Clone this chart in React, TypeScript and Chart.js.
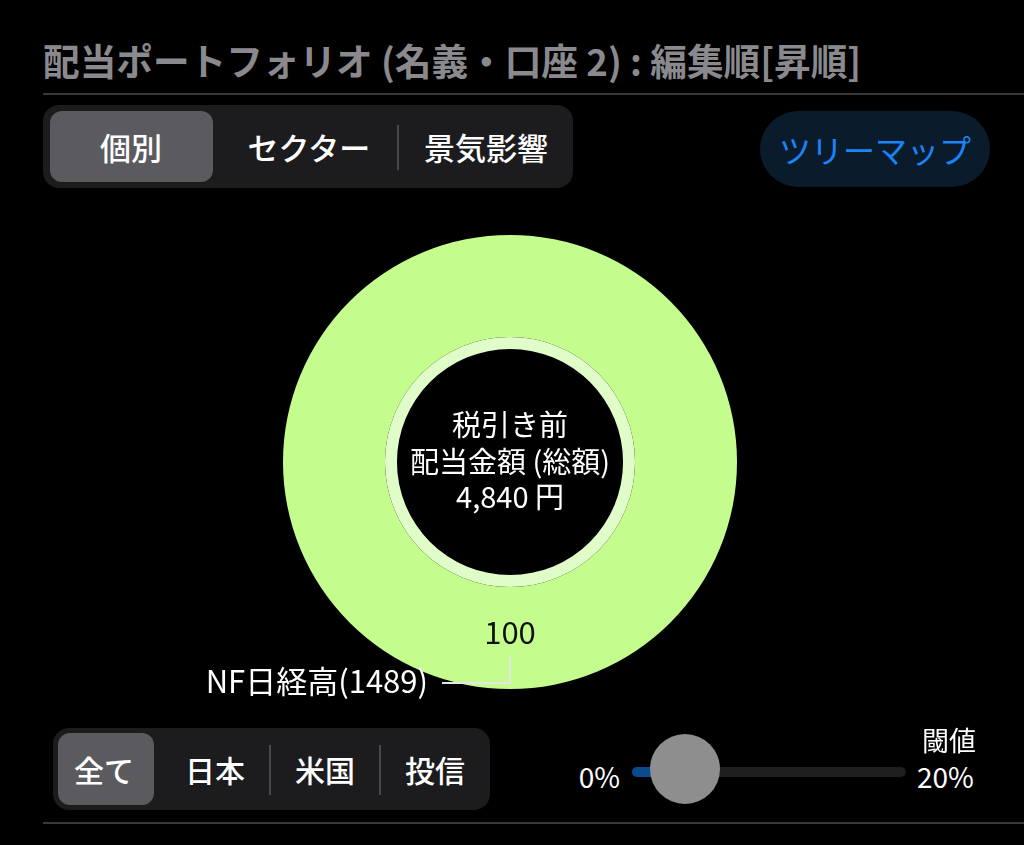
import React, { useEffect, useRef } from "react";
import { Chart, registerables } from "chart.js";

Chart.register(...registerables);

const titleText = "配当ポートフォリオ (名義・口座 2) : 編集順[昇順]";
const topTabs = ["個別", "セクター", "景気影響"];
const regionTabs = ["全て", "日本", "米国", "投信"];
const treemapLabel = "ツリーマップ";
const holdings = ["NF日経高(1489)"];
const dividendAmounts = [4840];
const centerLines = ["税引き前", "配当金額 (総額)"];
const currencyUnit = "円";
const sliderTitle = "閾値";
const sliderMin = "0%";
const sliderMax = "20%";

const FONT = '"Noto Sans CJK JP", "Noto Sans", sans-serif';

const labelPlugin = {
  id: "donutLabels",
  afterDraw(chart: any) {
    const ctx = chart.ctx;
    const meta0 = chart.getDatasetMeta(0);
    const meta1 = chart.getDatasetMeta(1);
    if (!meta0.data.length) return;
    const first = meta0.data[0];
    const cx = first.x;
    const cy = first.y;
    const innerMost = meta1.data.length ? meta1.data[0].innerRadius : first.innerRadius;
    const total = dividendAmounts.reduce((a, b) => a + b, 0);

    ctx.save();
    ctx.fillStyle = "#ffffff";
    ctx.textAlign = "center";
    ctx.textBaseline = "middle";
    ctx.font = `400 29px ${FONT}`;
    ctx.fillText(centerLines[0], cx, cy - 37);
    ctx.fillText(centerLines[1], cx, cy);
    ctx.fillText(total.toLocaleString("en-US") + " " + currencyUnit, cx, cy + 35);

    meta0.data.forEach((arc: any, i: number) => {
      const mid = (arc.startAngle + arc.endAngle) / 2;
      const outer = arc.outerRadius;
      const rMid = (innerMost + outer) / 2;
      const pct = Math.round((dividendAmounts[i] / total) * 100);
      ctx.fillStyle = "#111111";
      ctx.font = `400 31px ${FONT}`;
      ctx.textAlign = "center";
      ctx.textBaseline = "middle";
      ctx.fillText(String(pct), cx + Math.cos(mid) * rMid, cy + Math.sin(mid) * rMid);

      const x1 = cx + Math.cos(mid) * (outer - 32);
      const y1 = cy + Math.sin(mid) * (outer - 32);
      const x2 = cx + Math.cos(mid) * (outer - 6);
      const y2 = cy + Math.sin(mid) * (outer - 6);
      const dir = Math.cos(mid) > 0.001 ? 1 : -1;
      const x3 = x2 + dir * 68;
      ctx.strokeStyle = "#e6e6e6";
      ctx.lineWidth = 2;
      ctx.beginPath();
      ctx.moveTo(x1, y1);
      ctx.lineTo(x2, y2);
      ctx.lineTo(x3, y2);
      ctx.stroke();

      ctx.fillStyle = "#ffffff";
      ctx.font = `400 31px ${FONT}`;
      ctx.textAlign = dir > 0 ? "left" : "right";
      ctx.fillText(holdings[i], x3 + dir * 14, y2 - 2);
    });
    ctx.restore();
  },
};

function DonutChart() {
  const ref = useRef<HTMLCanvasElement | null>(null);
  useEffect(() => {
    if (!ref.current) return;
    const chart = new Chart(ref.current, {
      type: "doughnut",
      data: {
        labels: holdings,
        datasets: [
          {
            data: dividendAmounts,
            backgroundColor: ["#c4fc8e"],
            borderWidth: 0,
            hoverBorderWidth: 0,
            weight: 102,
          },
          {
            data: dividendAmounts,
            backgroundColor: ["#e0fcc9"],
            borderWidth: 0,
            hoverBorderWidth: 0,
            weight: 12,
          },
        ],
      },
      options: {
        animation: false,
        responsive: false,
        events: [],
        cutout: "49.8%",
        layout: { padding: { left: 0, right: 4, top: 35, bottom: 35 } },
        plugins: {
          legend: { display: false },
          tooltip: { enabled: false },
        },
      } as any,
      plugins: [labelPlugin],
    });
    return () => chart.destroy();
  }, []);
  return (
    <canvas
      ref={ref}
      width={1024}
      height={524}
      style={{ position: "absolute", left: 0, top: 200, width: 1024, height: 524 }}
    />
  );
}

const abs = (s: React.CSSProperties): React.CSSProperties => ({ position: "absolute", ...s });

function CenterText(props: { left: number; top: number; width: number; height: number; size: number; color?: string; weight?: number; children: React.ReactNode; align?: string }) {
  return (
    <div
      style={abs({
        left: props.left,
        top: props.top,
        width: props.width,
        height: props.height,
        display: "flex",
        alignItems: "center",
        justifyContent: props.align || "center",
        fontSize: props.size,
        color: props.color || "#ffffff",
        fontWeight: props.weight || 500,
        fontFamily: FONT,
        whiteSpace: "nowrap",
        lineHeight: 1,
      })}
    >
      {props.children}
    </div>
  );
}

export default function App() {
  const topCenters = [131, 309, 486];
  const regionCenters = [104, 215, 325, 435];
  return (
    <div style={{ position: "fixed", left: 0, top: 0, width: 1024, height: 845, background: "#000", overflow: "hidden", fontFamily: FONT }}>
      <div
        style={abs({
          left: 43,
          top: 39,
          height: 42,
          lineHeight: "42px",
          fontSize: 37,
          fontWeight: 700,
          color: "#8a8a8e",
          whiteSpace: "nowrap",
          transformOrigin: "left center",
          transform: "scaleX(0.99)",
        })}
      >
        {titleText}
      </div>
      <div style={abs({ left: 43, top: 93, width: 981, height: 2, background: "#38383a" })} />

      <div style={abs({ left: 43, top: 105, width: 530, height: 83, borderRadius: 16, background: "#1c1c1e" })} />
      <div style={abs({ left: 50, top: 111, width: 163, height: 71, borderRadius: 12, background: "#5b5b5f" })} />
      <div style={abs({ left: 397, top: 125, width: 2, height: 45, background: "#48484a" })} />
      {topTabs.map((t, i) => (
        <CenterText key={t} left={topCenters[i] - 90} top={111} width={180} height={71} size={31}>
          {t}
        </CenterText>
      ))}

      <div style={abs({ left: 760, top: 111, width: 230, height: 76, borderRadius: 38, background: "#0a1b2c" })} />
      <CenterText left={760} top={111} width={230} height={76} size={32} color="#1a84f8" weight={400}>
        {treemapLabel}
      </CenterText>

      <DonutChart />

      <div style={abs({ left: 53, top: 728, width: 437, height: 82, borderRadius: 16, background: "#1c1c1e" })} />
      <div style={abs({ left: 58, top: 733, width: 96, height: 72, borderRadius: 12, background: "#5b5b5f" })} />
      <div style={abs({ left: 269, top: 745, width: 2, height: 50, background: "#48484a" })} />
      <div style={abs({ left: 379, top: 745, width: 2, height: 50, background: "#48484a" })} />
      {regionTabs.map((t, i) => (
        <CenterText key={t} left={regionCenters[i] - 50} top={733} width={100} height={72} size={30}>
          {t}
        </CenterText>
      ))}

      <CenterText left={520} top={756} width={100} height={40} size={28} weight={400} align="flex-end">
        {sliderMin}
      </CenterText>
      <div style={abs({ left: 632, top: 767, width: 274, height: 10, borderRadius: 5, background: "#1e1e20" })} />
      <div style={abs({ left: 632, top: 767, width: 45, height: 10, borderRadius: 5, background: "#0a4a8f" })} />
      <div style={abs({ left: 650, top: 734, width: 70, height: 70, borderRadius: 35, background: "#8e8e8e" })} />
      <CenterText left={917} top={756} width={100} height={40} size={28} weight={400} align="flex-start">
        {sliderMax}
      </CenterText>
      <CenterText left={876} top={719} width={100} height={40} size={27} weight={400} align="flex-end">
        {sliderTitle}
      </CenterText>

      <div style={abs({ left: 43, top: 822, width: 981, height: 2, background: "#38383a" })} />
    </div>
  );
}
